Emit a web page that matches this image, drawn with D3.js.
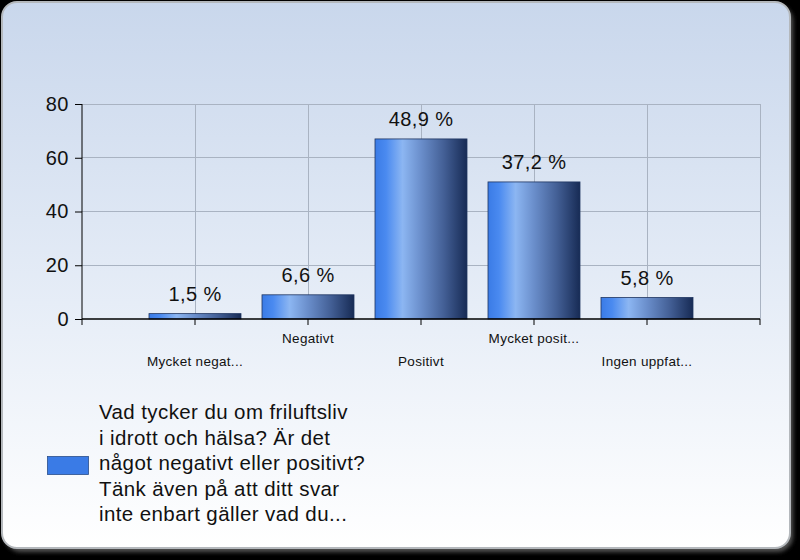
<!DOCTYPE html>
<html>
<head>
<meta charset="utf-8">
<script src="https://cdn.jsdelivr.net/npm/d3@7"></script>
<style>
  body { margin: 0; background: #000; }
  svg { display: block; font-family: Arial, "Liberation Sans", sans-serif; }
</style>
</head>
<body>
<div id="chart"></div>
<script>
// answer categories (as shown, truncated)
var categories = ['Mycket negat...', 'Negativt', 'Positivt', 'Mycket posit...', 'Ingen uppfat...'];

// number of answers per category
var counts = [2, 9, 67, 51, 8];

// percentage labels above the bars
var percentLabels = ['1,5 %', '6,6 %', '48,9 %', '37,2 %', '5,8 %'];

var yTicks = [0, 20, 40, 60, 80];

var legendLines = [
    'Vad tycker du om friluftsliv',
    'i idrott och hälsa? Är det',
    'något negativt eller positivt?',
    'Tänk även på att ditt svar',
    'inte enbart gäller vad du...'
];

var width = 800,
    height = 560;

var plot = {left: 82, right: 760, top: 104, bottom: 319};

var svg = d3.select('#chart').append('svg')
    .attr('width', width)
    .attr('height', height);

var defs = svg.append('defs');

// panel background, light blue to white
var bg = defs.append('linearGradient')
    .attr('id', 'panelGrad')
    .attr('x1', 0).attr('y1', 0).attr('x2', 0).attr('y2', 1);
bg.append('stop').attr('offset', '0%').attr('stop-color', '#c9d7ec');
bg.append('stop').attr('offset', '55%').attr('stop-color', '#e6edf7');
bg.append('stop').attr('offset', '100%').attr('stop-color', '#ffffff');

// bar shading, left to right
var barGrad = defs.append('linearGradient')
    .attr('id', 'barGrad')
    .attr('x1', 0).attr('y1', 0).attr('x2', 1).attr('y2', 0);
[
    ['0%', '#3a7be6'],
    ['12%', '#4a8af0'],
    ['30%', '#8cb6f2'],
    ['50%', '#6a8ecb'],
    ['75%', '#435f95'],
    ['100%', '#172b55']
].forEach(function(s){
    barGrad.append('stop').attr('offset', s[0]).attr('stop-color', s[1]);
});

var shadow = defs.append('filter').attr('id', 'blur')
    .attr('x', '-5%').attr('y', '-5%').attr('width', '110%').attr('height', '110%');
shadow.append('feGaussianBlur').attr('stdDeviation', 2);

// panel shadow + panel
svg.append('rect')
    .attr('x', 5).attr('y', 5)
    .attr('width', 788).attr('height', 547)
    .attr('rx', 16)
    .attr('fill', '#555')
    .attr('filter', 'url(#blur)');

svg.append('rect')
    .attr('x', 2).attr('y', 2)
    .attr('width', 788).attr('height', 546)
    .attr('rx', 15)
    .attr('fill', 'url(#panelGrad)')
    .attr('stroke', '#b4b8bc')
    .attr('stroke-width', 2);

// scales
var x = d3.scalePoint()
    .domain(categories)
    .range([plot.left, plot.right])
    .padding(1);

var y = d3.scaleLinear()
    .domain([0, 80])
    .range([plot.bottom, plot.top]);

var step = x.step(),
    barWidth = 92;

// tick positions along x: band edges around the points
var xTickPos = d3.range(categories.length + 2).map(function(i){ return plot.left + i * step; });

// grid
var grid = svg.append('g')
    .attr('stroke', '#a9b3c2')
    .attr('stroke-width', 1)
    .attr('shape-rendering', 'crispEdges');

grid.selectAll('line.h')
    .data(yTicks.filter(function(d){ return d > 0; }))
    .enter().append('line')
        .attr('class', 'h')
        .attr('x1', plot.left).attr('x2', plot.right)
        .attr('y1', function(d){ return y(d); })
        .attr('y2', function(d){ return y(d); });

grid.selectAll('line.v')
    .data(xTickPos.slice(1))
    .enter().append('line')
        .attr('class', 'v')
        .attr('x1', function(d){ return d; })
        .attr('x2', function(d){ return d; })
        .attr('y1', plot.top).attr('y2', plot.bottom);

// bars
svg.append('g')
    .selectAll('rect')
    .data(counts)
    .enter().append('rect')
        .attr('x', function(d, i){ return x(categories[i]) - barWidth / 2; })
        .attr('y', function(d){ return y(d); })
        .attr('width', barWidth)
        .attr('height', function(d){ return y(0) - y(d); })
        .attr('fill', 'url(#barGrad)')
        .attr('stroke', '#1f3560')
        .attr('stroke-width', 0.8);

// value labels
svg.append('g')
    .selectAll('text')
    .data(counts)
    .enter().append('text')
        .attr('x', function(d, i){ return x(categories[i]); })
        .attr('y', function(d){ return y(d) - 13; })
        .attr('text-anchor', 'middle')
        .attr('font-size', 20)
        .attr('letter-spacing', 0.4)
        .attr('fill', '#111')
        .text(function(d, i){ return percentLabels[i]; });

// y axis
var yAxis = svg.append('g')
    .attr('transform', 'translate(' + plot.left + ',0)')
    .call(d3.axisLeft(y).tickValues(yTicks).tickSize(7).tickPadding(6));
yAxis.selectAll('text').attr('font-size', 20).attr('letter-spacing', 0.5).attr('fill', '#111')
    .attr('font-family', 'Arial, "Liberation Sans", sans-serif');
yAxis.select('.domain').attr('stroke', '#000').attr('d', 'M0,' + plot.top + 'V' + plot.bottom);
yAxis.selectAll('line').attr('stroke', '#000');

// x axis line and ticks
var xAxis = svg.append('g');
xAxis.append('line')
    .attr('x1', plot.left).attr('x2', plot.right)
    .attr('y1', plot.bottom).attr('y2', plot.bottom)
    .attr('stroke', '#000')
    .attr('stroke-width', 1.5);
xAxis.selectAll('line.tick')
    .data(xTickPos)
    .enter().append('line')
        .attr('class', 'tick')
        .attr('x1', function(d){ return d; })
        .attr('x2', function(d){ return d; })
        .attr('y1', plot.bottom).attr('y2', plot.bottom + 6)
        .attr('stroke', '#000');

// category labels, staggered
xAxis.selectAll('text')
    .data(categories)
    .enter().append('text')
        .attr('x', function(d){ return x(d); })
        .attr('y', function(d, i){ return i % 2 == 0 ? 366 : 343; })
        .attr('text-anchor', 'middle')
        .attr('font-size', 13.5)
        .attr('letter-spacing', 0.3)
        .attr('fill', '#111')
        .text(function(d){ return d; });

// legend
var legend = svg.append('g');
legend.append('rect')
    .attr('x', 47.5).attr('y', 456.5)
    .attr('width', 41).attr('height', 18)
    .attr('fill', '#3a7be6')
    .attr('stroke', '#2a4f8a')
    .attr('stroke-width', 0.8);

legend.selectAll('text')
    .data(legendLines)
    .enter().append('text')
        .attr('x', 99)
        .attr('y', function(d, i){ return 419 + i * 25.5; })
        .attr('font-size', 20.5)
        .attr('letter-spacing', 0.4)
        .attr('fill', '#111')
        .text(function(d){ return d; });
</script>
</body>
</html>
